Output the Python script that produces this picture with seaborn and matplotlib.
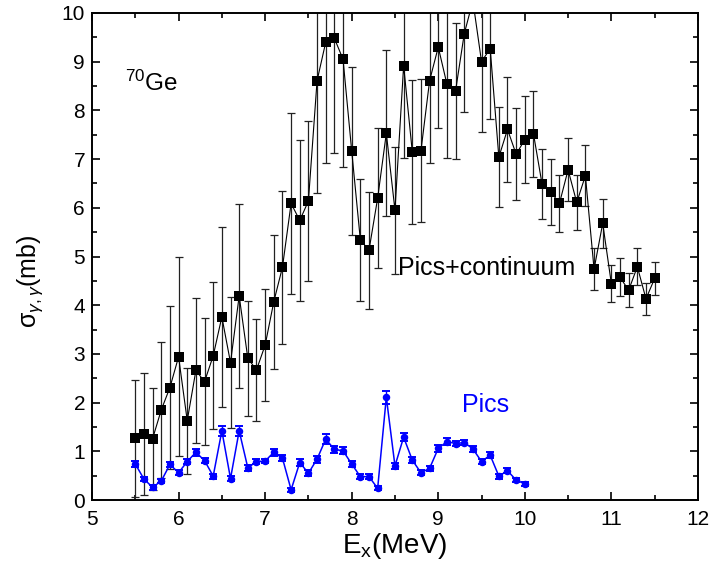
import numpy as np
import pandas as pd
import matplotlib
matplotlib.use("Agg")
import matplotlib.pyplot as plt
from matplotlib.ticker import MultipleLocator
import seaborn as sns

# Excitation energies (MeV)
energy_total = [5.5, 5.6, 5.7, 5.8, 5.9, 6.0, 6.1, 6.2, 6.3, 6.4, 6.5, 6.6, 6.7, 6.8, 6.9,
                7.0, 7.1, 7.2, 7.3, 7.4, 7.5, 7.6, 7.7, 7.8, 7.9, 8.0, 8.1, 8.2, 8.3, 8.4,
                8.5, 8.6, 8.7, 8.8, 8.9, 9.0, 9.1, 9.2, 9.3, 9.4, 9.5, 9.6, 9.7, 9.8, 9.9,
                10.0, 10.1, 10.2, 10.3, 10.4, 10.5, 10.6, 10.7, 10.8, 10.9, 11.0, 11.1,
                11.2, 11.3, 11.4, 11.5]
# Pics + continuum cross section (mb) and its uncertainty
sigma_total = [1.27, 1.36, 1.26, 1.85, 2.31, 2.94, 1.63, 2.66, 2.43, 2.96, 3.76, 2.82, 4.19,
               2.91, 2.67, 3.18, 4.07, 4.78, 6.09, 5.74, 6.14, 8.61, 9.40, 9.48, 9.05, 7.17,
               5.34, 5.13, 6.20, 7.53, 5.95, 8.92, 7.15, 7.17, 8.61, 9.30, 8.54, 8.40, 9.57,
               10.25, 9.00, 9.27, 7.04, 7.61, 7.10, 7.40, 7.52, 6.48, 6.33, 6.09, 6.78, 6.11,
               6.66, 4.74, 5.68, 4.44, 4.57, 4.31, 4.79, 4.13, 4.55]
err_total = [1.20, 1.25, 1.05, 1.40, 1.67, 2.04, 1.09, 1.48, 1.30, 1.51, 1.85, 1.34, 1.89,
             1.18, 1.04, 1.15, 1.37, 1.57, 1.86, 1.65, 1.65, 2.30, 2.47, 2.36, 2.21, 1.73,
             1.26, 1.20, 1.43, 1.70, 1.30, 1.90, 1.48, 1.47, 1.68, 1.66, 1.51, 1.40, 1.60,
             np.nan, 1.44, 1.45, 1.02, 1.07, 0.95, 0.90, 0.88, 0.72, 0.68, 0.58, 0.65, 0.57,
             0.62, 0.43, 0.50, 0.38, 0.39, 0.35, 0.38, 0.33, 0.34]

energy_pics = [5.5, 5.6, 5.7, 5.8, 5.9, 6.0, 6.1, 6.2, 6.3, 6.4, 6.5, 6.6, 6.7, 6.8, 6.9,
               7.0, 7.1, 7.2, 7.3, 7.4, 7.5, 7.6, 7.7, 7.8, 7.9, 8.0, 8.1, 8.2, 8.3, 8.4,
               8.5, 8.6, 8.7, 8.8, 8.9, 9.0, 9.1, 9.2, 9.3, 9.4, 9.5, 9.6, 9.7, 9.8, 9.9,
               10.0]
# Pics-only cross section (mb) and its uncertainty
sigma_pics = [0.74, 0.43, 0.26, 0.39, 0.73, 0.56, 0.79, 0.98, 0.81, 0.49, 1.42, 0.44, 1.42,
              0.66, 0.79, 0.80, 0.98, 0.86, 0.21, 0.77, 0.55, 0.84, 1.25, 1.04, 1.01, 0.74,
              0.48, 0.48, 0.24, 2.11, 0.70, 1.29, 0.82, 0.56, 0.65, 1.06, 1.20, 1.16, 1.18,
              1.05, 0.79, 0.92, 0.49, 0.60, 0.41, 0.33]
err_pics = [0.06, 0.05, 0.05, 0.05, 0.06, 0.05, 0.06, 0.07, 0.06, 0.05, 0.10, 0.05, 0.10,
            0.06, 0.05, 0.05, 0.07, 0.06, 0.04, 0.07, 0.06, 0.07, 0.10, 0.07, 0.07, 0.06,
            0.05, 0.05, 0.04, 0.13, 0.06, 0.08, 0.06, 0.05, 0.05, 0.07, 0.07, 0.06, 0.06,
            0.06, 0.06, 0.06, 0.05, 0.05, 0.04, 0.04]

df_total = pd.DataFrame({"E": energy_total, "sigma": sigma_total, "err": err_total})
df_pics = pd.DataFrame({"E": energy_pics, "sigma": sigma_pics, "err": err_pics})

sns.set_theme(style="ticks")
plt.rcParams["font.family"] = ["Liberation Sans", "DejaVu Sans"]
plt.rcParams["mathtext.fontset"] = "custom"
plt.rcParams["mathtext.rm"] = "Liberation Sans"
plt.rcParams["mathtext.it"] = "Liberation Sans:italic"
plt.rcParams["mathtext.default"] = "regular"

fig = plt.figure(figsize=(7.1, 5.7), dpi=100)
ax = fig.add_axes([0.1296, 0.1228, 0.8534, 0.8544])

# error bars first, then connecting lines and markers on top
ax.errorbar(df_total["E"], df_total["sigma"], yerr=df_total["err"], fmt="none",
            ecolor="#222222", elinewidth=0.9, capsize=3.0, capthick=0.9, zorder=2)
sns.lineplot(data=df_total, x="E", y="sigma", ax=ax, color="black", linewidth=0.8,
             marker="s", markersize=7.6, markeredgewidth=0, zorder=3, estimator=None,
             sort=False)

ax.errorbar(df_pics["E"], df_pics["sigma"], yerr=df_pics["err"], fmt="none",
            ecolor="#0000ff", elinewidth=1.0, capsize=2.6, capthick=1.4, zorder=4)
sns.lineplot(data=df_pics, x="E", y="sigma", ax=ax, color="#0000ff", linewidth=1.1,
             marker="o", markersize=5.4, markeredgewidth=0, zorder=5, estimator=None,
             sort=False)

ax.set_xlim(5, 12)
ax.set_ylim(0, 10)
ax.xaxis.set_major_locator(MultipleLocator(1))
ax.xaxis.set_minor_locator(MultipleLocator(0.5))
ax.yaxis.set_major_locator(MultipleLocator(1))
ax.yaxis.set_minor_locator(MultipleLocator(0.5))
ax.tick_params(which="both", direction="in", top=True, right=True, color="black",
               width=1.2, labelsize=15, labelcolor="black")
ax.tick_params(axis="x", pad=7)
ax.tick_params(axis="y", pad=5)
ax.tick_params(which="major", length=6)
ax.tick_params(which="minor", length=3.5)
for sp in ax.spines.values():
    sp.set_color("black")
    sp.set_linewidth(1.4)

ax.set_xlabel(r"E$_x$(MeV)", fontsize=20, color="black")
ax.xaxis.set_label_coords(0.5, -0.064)
ax.set_ylabel(r"σ$_{\mathit{γ,γ}}$(mb)", fontsize=18, color="black")
ax.yaxis.set_label_coords(-0.078, 0.45)

ax.text(5.38, 8.56, r"$^{70}$Ge", fontsize=17.5, color="black", va="center", ha="left")
ax.text(8.53, 4.76, "Pics+continuum", fontsize=18, color="black", va="center", ha="left")
ax.text(9.27, 1.95, "Pics", fontsize=18, color="#0000ff", va="center", ha="left")

fig.savefig("out.png", dpi=100)
